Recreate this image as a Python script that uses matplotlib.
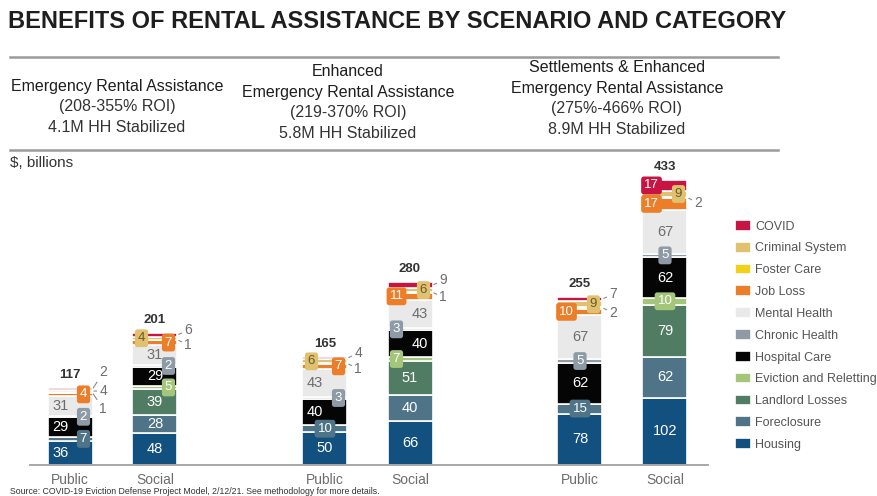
import matplotlib.pyplot as plt
from matplotlib.lines import Line2D
import numpy as np

W, H = 878, 496

scenarios = ["Emergency Rental Assistance",
             "Enhanced\nEmergency Rental Assistance",
             "Settlements & Enhanced\nEmergency Rental Assistance"]
roi = ["(208-355% ROI)", "(219-370% ROI)", "(275%-466% ROI)"]
stabilized = ["4.1M HH Stabilized", "5.8M HH Stabilized", "8.9M HH Stabilized"]
payers = ["Public", "Social"]

categories = ["Housing", "Foreclosure", "Landlord Losses", "Eviction and Reletting",
              "Hospital Care", "Chronic Health", "Mental Health", "Job Loss",
              "Foster Care", "Criminal System", "COVID"]

# $ billions, one entry per bar: ERA public/social, enhanced public/social, settlements public/social
housing = [36, 48, 50, 66, 78, 102]
foreclosure = [7, 28, 10, 40, 15, 62]
landlord = [0, 39, 0, 51, 0, 79]
eviction = [0, 5, 0, 7, 0, 10]
hospital = [29, 29, 40, 40, 62, 62]
chronic = [2, 2, 3, 3, 5, 5]
mental = [31, 31, 43, 43, 67, 67]
job_loss = [4, 7, 7, 11, 10, 17]
foster = [1, 1, 1, 1, 2, 2]
criminal = [4, 4, 6, 6, 9, 9]
covid = [2, 6, 4, 9, 7, 17]
totals = [117, 201, 165, 280, 255, 433]

series = [housing, foreclosure, landlord, eviction, hospital, chronic,
          mental, job_loss, foster, criminal, covid]

colors = {
    "Housing": "#12507f", "Foreclosure": "#4f7488", "Landlord Losses": "#4f7c63",
    "Eviction and Reletting": "#a3c67b", "Hospital Care": "#050505",
    "Chronic Health": "#8e9ba6", "Mental Health": "#e9e9e9", "Job Loss": "#ec7e2a",
    "Foster Care": "#f3d01a", "Criminal System": "#dfc170", "COVID": "#c81442",
}

# which small segments get a value box, and where it sits across the bar
box_pos = [
    {"Foreclosure": "r", "Chronic Health": "r", "Job Loss": "r"},
    {"Eviction and Reletting": "r", "Chronic Health": "r", "Job Loss": "r", "Criminal System": "l"},
    {"Foreclosure": "c", "Chronic Health": "r", "Job Loss": "r", "Criminal System": "l"},
    {"Eviction and Reletting": "l", "Chronic Health": "l", "Job Loss": "l", "Criminal System": "r"},
    {"Foreclosure": "c", "Chronic Health": "c", "Job Loss": "l", "Criminal System": "r"},
    {"Eviction and Reletting": "c", "Chronic Health": "c", "Job Loss": "l",
     "Criminal System": "r", "COVID": "l"},
]
# segments labelled outside the bar with a leader line
callouts = [
    ["COVID", "Criminal System", "Foster Care"],
    ["COVID", "Foster Care"],
    ["COVID", "Foster Care"],
    ["COVID", "Foster Care"],
    ["COVID", "Foster Care"],
    ["Foster Care"],
]
# big in-bar labels pushed to one side
text_pos = [
    {"Housing": "l", "Hospital Care": "l", "Mental Health": "l"},
    {}, {"Hospital Care": "l", "Mental Health": "l"},
    {"Hospital Care": "r", "Mental Health": "r"}, {}, {},
]

plt.rcParams["font.family"] = ["Liberation Sans", "DejaVu Sans"]

fig = plt.figure(figsize=(W / 100, H / 100), dpi=100)
ax = fig.add_axes([30 / W, 31 / H, (708 - 30) / W, (465 - 160) / H])


def fx(x):
    return x / W


def fy(y):
    return 1 - y / H


# bar positions: three scenario groups, public/social in each
spacing = 255.0
offset = 85.0 / spacing / 2
width = 45.0 / spacing
xpos = []
for g in range(len(scenarios)):
    xpos += [g - offset, g + offset]
xpos = np.array(xpos)

bottom = np.zeros(len(xpos))
seg_mid = {}
for cat, vals in zip(categories, series):
    vals = np.array(vals, dtype=float)
    ax.bar(xpos, vals, bottom=bottom, width=width, color=colors[cat],
           edgecolor="white", linewidth=1.2, label=cat)
    seg_mid[cat] = bottom + vals / 2
    bottom = bottom + vals

side = {"l": -0.3, "c": 0.0, "r": 0.3}
for b in range(len(xpos)):
    for cat, vals in zip(categories, series):
        v = vals[b]
        if v == 0 or cat in callouts[b]:
            continue
        y = seg_mid[cat][b]
        if cat in box_pos[b]:
            x = xpos[b] + side[box_pos[b][cat]] * width
            tc = "#6a5a2a" if cat == "Criminal System" else "white"
            ax.text(x, y, str(v), ha="center", va="center", fontsize=9.5, color=tc,
                    bbox=dict(boxstyle="round,pad=0.22,rounding_size=0.2",
                              fc=colors[cat], ec="none"))
        else:
            x = xpos[b] + {"l": -0.22, "c": 0.0, "r": 0.22}[text_pos[b].get(cat, "c")] * width
            tc = "#6d6d6d" if cat == "Mental Health" else "white"
            ax.text(x, y, str(v), ha="center", va="center", fontsize=10.5, color=tc)

    # leader-line labels to the right of the bar top
    cs = callouts[b]
    n = len(cs)
    step = 12 if n > 2 else 7
    for k, cat in enumerate(cs):
        dy = -4 if n == 1 else ((n - 1) / 2 - k) * step
        ax.annotate(str(series[categories.index(cat)][b]),
                    xy=(xpos[b] + width / 2, seg_mid[cat][b]),
                    xytext=(5, dy), textcoords="offset points",
                    ha="left", va="center", fontsize=10, color="#6d6d6d",
                    arrowprops=dict(arrowstyle="-", color="#8a8a8a", lw=0.8,
                                    shrinkA=0, shrinkB=1))

    ax.annotate(str(totals[b]), xy=(xpos[b], bottom[b]), xytext=(0, 5),
                textcoords="offset points", ha="center", va="bottom",
                fontsize=9.5, fontweight="bold", color="#333333")

ax.set_xlim(-82.5 / spacing, (708 - 112.5) / spacing)
ax.set_ylim(0, 462)
ax.set_xticks(xpos)
ax.set_xticklabels(payers * len(scenarios), fontsize=10, color="#6d6d6d")
ax.tick_params(axis="x", length=0, pad=6)
ax.set_yticks([])
for s in ["top", "right", "left"]:
    ax.spines[s].set_visible(False)
ax.spines["bottom"].set_color("#a0a0a0")
ax.spines["bottom"].set_linewidth(1.3)

# legend, top entry first
handles, labels = ax.get_legend_handles_labels()
fig.legend(handles[::-1], labels[::-1], loc="upper left",
           bbox_to_anchor=(fx(730), fy(215)), frameon=False, fontsize=9.0,
           handlelength=1.3, handleheight=0.95, handletextpad=0.3,
           labelspacing=0.73, labelcolor="#555555", borderaxespad=0)

# title and scenario header
fig.text(fx(8), fy(22), "BENEFITS OF RENTAL ASSISTANCE BY SCENARIO AND CATEGORY",
         fontsize=17, fontweight="bold", color="#1e1e1e", va="center")
for yy in (57, 150):
    fig.add_artist(Line2D([fx(10), fx(778)], [fy(yy), fy(yy)], color="#9a9a9a", lw=1.8))

head_x = [117, 348, 617]
head_top = [86, 72, 68]
for x, y0, name, r, st in zip(head_x, head_top, scenarios, roi, stabilized):
    lines = name.split("\n") + [r, st]
    for k, line in enumerate(lines):
        fig.text(fx(x), fy(y0 + k * 20.5), line, fontsize=11.5,
                 color="#1e1e1e" if k < len(lines) - 2 else "#333333",
                 ha="center", va="center")

fig.text(fx(10), fy(163), "$, billions", fontsize=11, color="#333333", va="center")
fig.text(fx(10), fy(491), "Source: COVID-19 Eviction Defense Project Model, 2/12/21. "
         "See methodology for more details.", fontsize=6.3,
         color="#333333", va="center")

fig.savefig("out.png", dpi=100)
